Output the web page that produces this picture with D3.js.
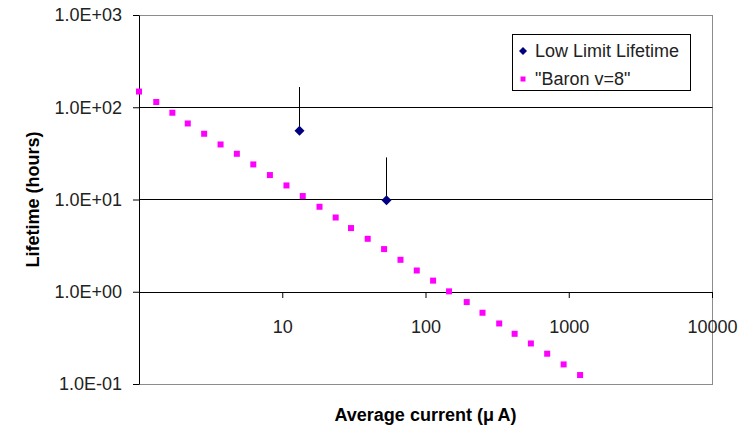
<!DOCTYPE html>
<html>
<head>
<meta charset="utf-8">
<script src="https://cdn.jsdelivr.net/npm/d3@7"></script>
<style>
  body { margin: 0; background: #fff; }
  svg { display: block; font-family: "Liberation Sans", Arial, sans-serif; }
</style>
</head>
<body>
<svg id="chart" width="756" height="425"></svg>
<script>
// values
var currentUA = [1.0, 1.32, 1.71, 2.19, 2.85, 3.71, 4.82, 6.28, 8.2, 10.7, 13.9, 18.2, 23.6, 30.2,
                 39.5, 51.4, 66.9, 86.9, 113, 146, 194, 250, 327, 419, 544, 707, 921, 1200];
var baronHours = [148, 114, 87.2, 66.7, 51.6, 39.5, 31.3, 24.0, 18.4, 14.2, 10.9, 8.34, 6.38, 4.90,
                  3.75, 2.90, 2.22, 1.70, 1.32, 1.01, 0.773, 0.592, 0.453, 0.350, 0.275, 0.213, 0.163, 0.125];
var limitCurrent = [13.1, 52.8];
var limitHours = [55.6, 9.8];
var limitErrPlus = [110, 18.8];
var xTicks = [10, 100, 1000, 10000];
var yTicks = [0.1, 1, 10, 100, 1000];
var legendNames = ['Low Limit Lifetime', '"Baron v=8"'];

var svg = d3.select('#chart');
// note: "top" is taken by window.top, so use plot* names
var plotLeft = 139, plotRight = 712, plotTop = 15, plotBottom = 384;
var fontPx = '18px';

var x = d3.scaleLog().domain([1, 10000]).range([plotLeft, plotRight]);
var y = d3.scaleLog().domain([0.1, 1000]).range([plotBottom, plotTop]);

function sci(v) {
  var e = Math.round(Math.log10(v));
  return '1.0E' + (e < 0 ? '-' : '+') + String(Math.abs(e)).padStart(2, '0');
}

// plot frame (grey)
svg.append('rect')
  .attr('x', plotLeft + 0.5).attr('y', plotTop + 0.5)
  .attr('width', plotRight - plotLeft).attr('height', plotBottom - plotTop)
  .attr('fill', 'none').attr('stroke', '#8c8c8c');

// major gridlines at 10 and 100
svg.append('g').selectAll('line')
  .data([10, 100])
  .join('line')
  .attr('x1', plotLeft).attr('x2', plotRight + 0.5)
  .attr('y1', function(d) { return Math.round(y(d)) + 0.5; })
  .attr('y2', function(d) { return Math.round(y(d)) + 0.5; })
  .attr('stroke', '#000');

// y axis
var yAxis = svg.append('g')
  .attr('transform', 'translate(' + plotLeft + ',0)')
  .call(d3.axisLeft(y).tickValues(yTicks).tickFormat(sci).tickSize(6).tickSizeOuter(0).tickPadding(11));

// x axis crosses at 1.0E+00
var xAxis = svg.append('g')
  .attr('transform', 'translate(0,' + Math.round(y(1)) + ')')
  .call(d3.axisBottom(x).tickValues(xTicks).tickFormat(d3.format('d')).tickSize(6).tickSizeOuter(0).tickPadding(22));

[yAxis, xAxis].forEach(function(g) {
  g.select('.domain').attr('stroke', '#000');
  g.selectAll('.tick line').attr('stroke', '#000');
  g.selectAll('.tick text').attr('fill', '#222').style('font-size', fontPx);
});

// Baron curve
svg.append('g').selectAll('rect')
  .data(currentUA)
  .join('rect')
  .attr('x', function(d) { return x(d) - 3; })
  .attr('y', function(d, i) { return y(baronHours[i]) - 3; })
  .attr('width', 6).attr('height', 6)
  .attr('fill', '#ff00ff');

// low limit points with upward error bars
var lim = svg.append('g');
lim.selectAll('line')
  .data(limitCurrent)
  .join('line')
  .attr('x1', function(d) { return Math.round(x(d)) + 0.5; })
  .attr('x2', function(d) { return Math.round(x(d)) + 0.5; })
  .attr('y1', function(d, i) { return y(limitHours[i]); })
  .attr('y2', function(d, i) { return y(limitHours[i] + limitErrPlus[i]); })
  .attr('stroke', '#000');
lim.selectAll('path')
  .data(limitCurrent)
  .join('path')
  .attr('d', 'M0,-5L5,0L0,5L-5,0Z')
  .attr('transform', function(d, i) { return 'translate(' + (Math.round(x(d)) + 0.5) + ',' + y(limitHours[i]) + ')'; })
  .attr('fill', '#000080');

// legend
var leg = svg.append('g');
leg.append('rect')
  .attr('x', 512.5).attr('y', 34.5).attr('width', 178).attr('height', 56)
  .attr('fill', '#fff').attr('stroke', '#000');
var rows = leg.selectAll('g.row')
  .data(legendNames)
  .join('g')
  .attr('class', 'row')
  .attr('transform', function(d, i) { return 'translate(523,' + (51 + i * 28) + ')'; });
rows.filter(function(d, i) { return i === 0; })
  .append('path').attr('d', 'M0,-4L4,0L0,4L-4,0Z').attr('fill', '#000080');
rows.filter(function(d, i) { return i === 1; })
  .append('rect').attr('x', -2.5).attr('y', -2.5).attr('width', 5).attr('height', 5).attr('fill', '#ff00ff');
rows.append('text')
  .attr('x', 12).attr('dy', '0.35em')
  .style('font-size', fontPx).attr('fill', '#222')
  .text(function(d) { return d; });

// axis titles
svg.append('text')
  .attr('transform', 'translate(39,' + ((plotTop + plotBottom) / 2) + ') rotate(-90)')
  .attr('text-anchor', 'middle')
  .style('font-size', fontPx).style('font-weight', 'bold')
  .text('Lifetime (hours)');

svg.append('text')
  .attr('x', (plotLeft + plotRight) / 2).attr('y', 421)
  .attr('text-anchor', 'middle')
  .style('font-size', fontPx).style('font-weight', 'bold')
  .text('Average current (\u03bc\u2009A)');
</script>
</body>
</html>
